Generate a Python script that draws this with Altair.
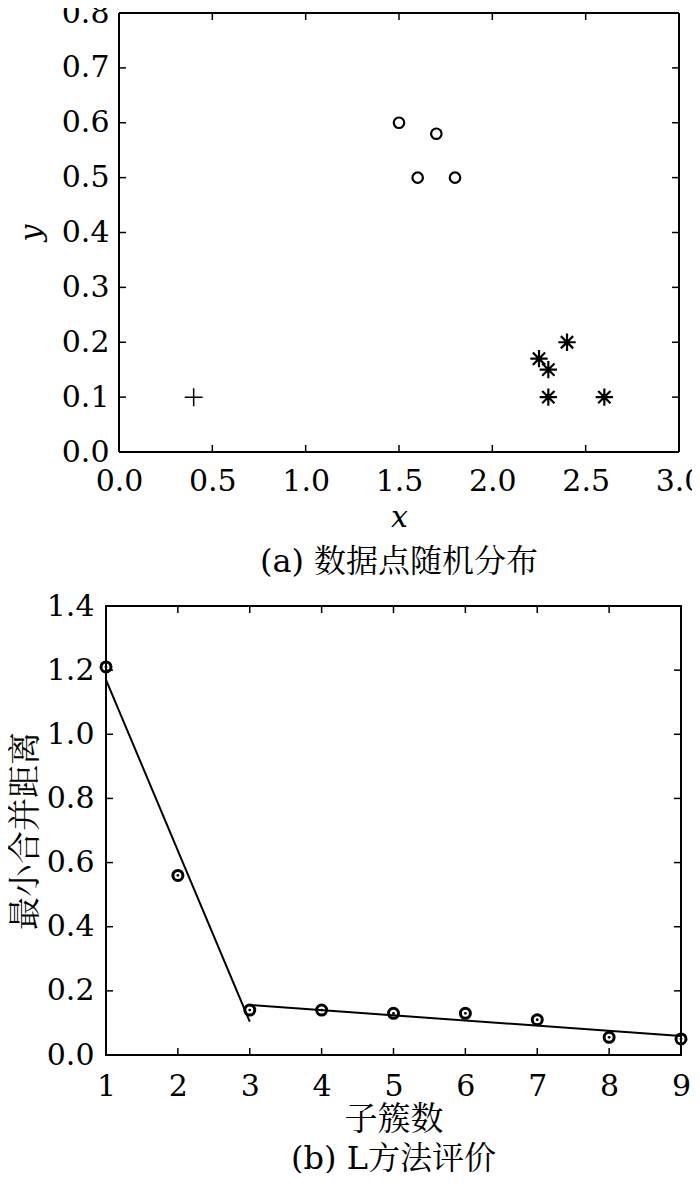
import altair as alt
import pandas as pd

FONT = "DejaVu Serif, Noto Serif CJK SC, Noto Sans CJK SC, serif"

# ---------------- panel (a) data ----------------
circle_x = [1.5, 1.7, 1.6, 1.8]
circle_y = [0.6, 0.58, 0.5, 0.5]
star_x = [2.25, 2.3, 2.4, 2.3, 2.6]
star_y = [0.17, 0.15, 0.2, 0.1, 0.1]
plus_x = [0.4]
plus_y = [0.1]
xa_ticks = [0.0, 0.5, 1.0, 1.5, 2.0, 2.5, 3.0]
ya_ticks = [0.0, 0.1, 0.2, 0.3, 0.4, 0.5, 0.6, 0.7, 0.8]

# ---------------- panel (b) data ----------------
k_values = [1, 2, 3, 4, 5, 6, 7, 8, 9]
min_dist = [1.21, 0.56, 0.14, 0.14, 0.13, 0.13, 0.11, 0.055, 0.05]
fit_seg = ["a", "a", "b", "b"]
fit_x = [1, 3, 3, 9]
fit_y = [1.17, 0.104, 0.156, 0.059]
xb_ticks = [1, 2, 3, 4, 5, 6, 7, 8, 9]
yb_ticks = [0.0, 0.2, 0.4, 0.6, 0.8, 1.0, 1.2, 1.4]

ASTERISK = "M-1,0L1,0M0,-1L0,1M-0.71,-0.71L0.71,0.71M-0.71,0.71L0.71,-0.71"
PLUS = "M-1,0L1,0M0,-1L0,1"
TL = 7  # inward tick length


def inward_ticks(xticks, yticks, xscale, yscale, xl, xr, H):
    dx = pd.DataFrame({"v": xticks})
    dy = pd.DataFrame({"v": yticks})
    base_x = alt.Chart(dx).mark_rule(color="black", strokeWidth=1.5)
    base_y = alt.Chart(dy).mark_rule(color="black", strokeWidth=1.5)
    xb = base_x.encode(x=alt.X("v:Q", scale=xscale), y=alt.value(H), y2=alt.value(H - TL))
    xt = base_x.encode(x=alt.X("v:Q", scale=xscale), y=alt.value(0), y2=alt.value(TL))
    yl = base_y.encode(y=alt.Y("v:Q", scale=yscale), x=alt.value(xl), x2=alt.value(xl + TL))
    yr = base_y.encode(y=alt.Y("v:Q", scale=yscale), x=alt.value(xr), x2=alt.value(xr - TL))
    return [xb, xt, yl, yr]


LBL = dict(labelFont=FONT, labelFontSize=30, labelColor="black",
           labelFlush=False, labelOverlap=False, grid=False, ticks=False, domain=False)

# ---------------- panel (a) ----------------
A_SHIFT = 13            # panel (a) frame starts this many px right of panel (b)'s
WA, HA = 573, 439
xsa = alt.Scale(domain=[0, 3], nice=False, zero=False, range=[A_SHIFT, WA])
ysa = alt.Scale(domain=[0, 0.8], nice=False, zero=False)

xa_axis = alt.Axis(values=xa_ticks, format=".1f", labelPadding=14, **LBL,
                   title="x", titleFont=FONT, titleFontStyle="italic", titleFontWeight="normal",
                   titleFontSize=30, titleColor="black", titlePadding=6)
ya_axis = alt.Axis(values=ya_ticks, format=".1f", labelPadding=10, offset=-A_SHIFT, **LBL,
                   title="y", titleFont=FONT, titleFontStyle="italic", titleFontWeight="normal",
                   titleFontSize=30, titleColor="black", titlePadding=15)

df_c = pd.DataFrame({"x": circle_x, "y": circle_y})
df_s = pd.DataFrame({"x": star_x, "y": star_y})
df_p = pd.DataFrame({"x": plus_x, "y": plus_y})

circles = alt.Chart(df_c).mark_point(shape="circle", filled=False, size=110, strokeWidth=2.2,
                                     color="black", opacity=1).encode(
    x=alt.X("x:Q", scale=xsa, axis=xa_axis), y=alt.Y("y:Q", scale=ysa, axis=ya_axis))
stars = alt.Chart(df_s).mark_point(shape=ASTERISK, filled=False, size=300, strokeWidth=2.2,
                                   color="black", opacity=1).encode(
    x=alt.X("x:Q", scale=xsa), y=alt.Y("y:Q", scale=ysa))
plus = alt.Chart(df_p).mark_point(shape=PLUS, filled=False, size=324, strokeWidth=1.5,
                                  color="black", opacity=1).encode(
    x=alt.X("x:Q", scale=xsa), y=alt.Y("y:Q", scale=ysa))

frame_style = dict(color="black", strokeWidth=2)
fa_left = alt.Chart().mark_rule(**frame_style).encode(
    x=alt.datum(xa_ticks[0], scale=xsa), y=alt.value(0), y2=alt.value(HA))
fa_right = alt.Chart().mark_rule(**frame_style).encode(
    x=alt.datum(xa_ticks[-1], scale=xsa), y=alt.value(0), y2=alt.value(HA))
fa_top = alt.Chart().mark_rule(**frame_style).encode(
    y=alt.datum(ya_ticks[-1], scale=ysa), x=alt.value(A_SHIFT), x2=alt.value(WA))
fa_bottom = alt.Chart().mark_rule(**frame_style).encode(
    y=alt.datum(ya_ticks[0], scale=ysa), x=alt.value(A_SHIFT), x2=alt.value(WA))

top = alt.layer(circles, stars, plus, fa_left, fa_right, fa_top, fa_bottom,
                *inward_ticks(xa_ticks, ya_ticks, xsa, ysa, A_SHIFT, WA, HA)).properties(
    width=WA, height=HA, view=alt.ViewBackground(stroke=None),
    title=alt.TitleParams("(a) 数据点随机分布", orient="bottom", anchor="middle", frame="group",
                          font=FONT, fontSize=32, fontWeight="normal", color="black", offset=15,
                          dx=A_SHIFT / 2))

# ---------------- panel (b) ----------------
WB, HB = 575, 449
xsb = alt.Scale(domain=[1, 9], nice=False, zero=False)
ysb = alt.Scale(domain=[0, 1.4], nice=False, zero=False)

xb_axis = alt.Axis(values=xb_ticks, format="d", labelPadding=16, **LBL,
                   title="子簇数", titleFont=FONT, titleFontWeight="normal",
                   titleFontSize=33, titleColor="black", titlePadding=2)
yb_axis = alt.Axis(values=yb_ticks, format=".1f", labelPadding=12, **LBL,
                   title="最小合并距离", titleFont=FONT, titleFontWeight="normal",
                   titleFontSize=33, titleColor="black", titlePadding=4)

df_pts = pd.DataFrame({"k": k_values, "d": min_dist})
df_fit = pd.DataFrame({"seg": fit_seg, "k": fit_x, "d": fit_y})

fit = alt.Chart(df_fit).mark_line(color="black", strokeWidth=2).encode(
    x=alt.X("k:Q", scale=xsb, axis=xb_axis), y=alt.Y("d:Q", scale=ysb, axis=yb_axis), detail="seg:N")
rings = alt.Chart(df_pts).mark_point(shape="circle", filled=False, size=100, strokeWidth=3,
                                     color="black", opacity=1).encode(
    x=alt.X("k:Q", scale=xsb), y=alt.Y("d:Q", scale=ysb))
dots = alt.Chart(df_pts).mark_point(shape="circle", filled=True, size=8,
                                    color="black", opacity=1).encode(
    x=alt.X("k:Q", scale=xsb), y=alt.Y("d:Q", scale=ysb))

bottom = alt.layer(fit, rings, dots, *inward_ticks(xb_ticks, yb_ticks, xsb, ysb, 0, WB, HB)).properties(
    width=WB, height=HB,
    title=alt.TitleParams("(b) L方法评价", orient="bottom", anchor="middle", frame="group",
                          font=FONT, fontSize=32, fontWeight="normal", color="black", offset=8))

chart = alt.vconcat(top, bottom, spacing=12).properties(
    padding={"top": -10, "left": 0, "right": -11, "bottom": -3},
    background="white",
).configure_view(stroke="black", strokeWidth=2)

chart.save("out.html", embed_options={"renderer": "svg", "actions": False})
